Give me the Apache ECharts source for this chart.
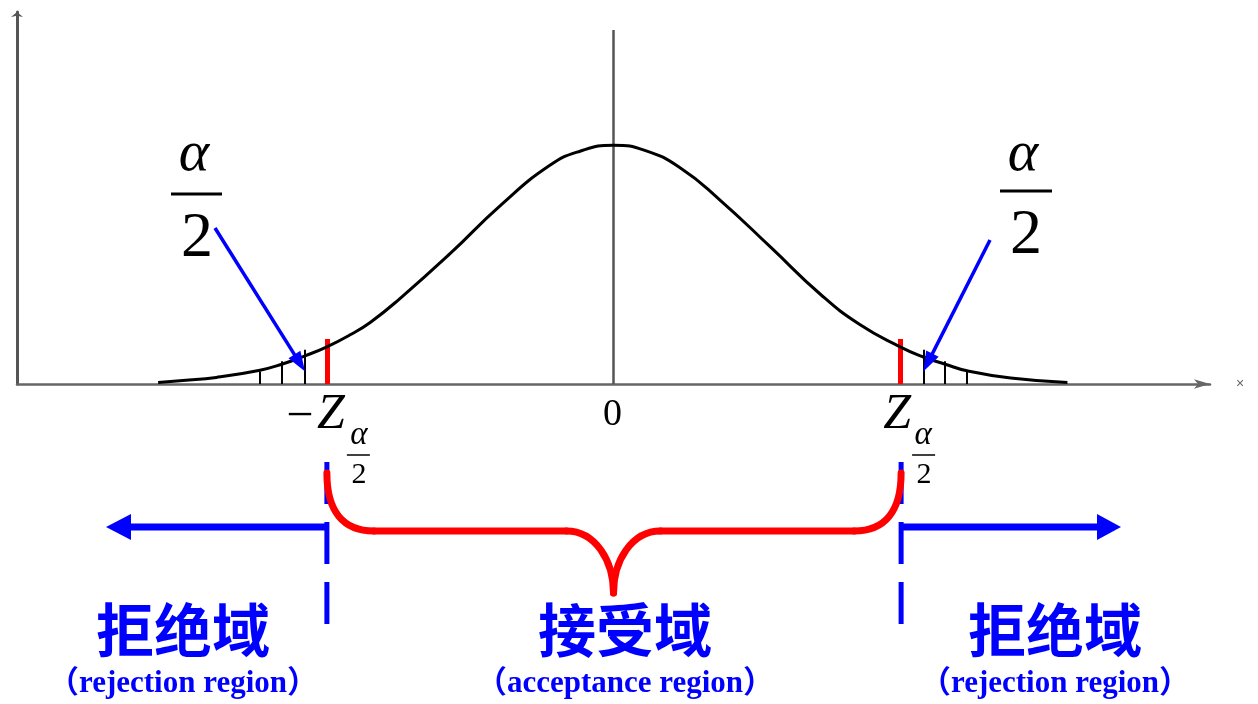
<!DOCTYPE html>
<html><head><meta charset="utf-8">
<script src="https://cdn.jsdelivr.net/npm/echarts@6/dist/echarts.min.js"></script>
<style>html,body{margin:0;padding:0;background:#fff}#c{width:1258px;height:704px}</style>
</head><body><div id="c"></div>
<script>
// ---- data (x in z units, y in density units) ----
const zValues = [-3.13,-2.96,-2.73,-2.43,-2.28,-2.12,-1.97,-1.81,-1.67,-1.47,-1.12,-0.78,-0.44,-0.23,0,0.22,0.46,0.73,1.08,1.42,1.69,1.97,2.13,2.28,2.43,2.73,3.12];
const density = [0.0025,0.0058,0.011,0.023,0.033,0.047,0.062,0.082,0.103,0.142,0.218,0.297,0.364,0.388,0.398,0.389,0.360,0.307,0.228,0.150,0.0995,0.062,0.045,0.033,0.022,0.010,0.0025];
const criticalZ = [-1.97, 1.97];
const criticalHeight = 0.075;
const hatchZ = [-2.43,-2.28,-2.12,2.13,2.28,2.43];
const hatchHeight = [0.021,0.038,0.057,0.057,0.038,0.021];
const centerLineTop = 0.59;
const arrowTipZ = [-2.12, 2.13];
const arrowTipY = 0.021;
const regionNames = ['拒绝域','接受域','拒绝域'];
const regionNamesEn = ['（rejection region）','（acceptance region）','（rejection region）'];

const chart = echarts.init(document.getElementById('c'));
const SERIF = '"Liberation Serif","Times New Roman",serif';
const BLUE = '#0000ff', RED = '#ff0000';

const markData = [];
markData.push([{coord:[0,0],lineStyle:{color:'#555',width:2.5,type:'solid'}},{coord:[0,centerLineTop]}]);
hatchZ.forEach((z,i)=>markData.push([{coord:[z,0],lineStyle:{color:'#000',width:2,type:'solid'}},{coord:[z,hatchHeight[i]]}]));
criticalZ.forEach(z=>markData.push([{coord:[z,0],lineStyle:{color:RED,width:5,type:'solid'}},{coord:[z,criticalHeight]}]));

chart.setOption({
  animation:false,
  grid:{left:17,right:48,top:12,bottom:320},
  xAxis:{type:'value',min:-4.1,max:4.1,
    axisLine:{onZero:true,symbol:['none','arrow'],symbolSize:[7,16],lineStyle:{color:'#666',width:2.5}},
    axisTick:{show:false},axisLabel:{show:false},splitLine:{show:false},
    name:'×',nameLocation:'end',nameGap:26,nameTextStyle:{color:'#666',fontSize:14,verticalAlign:'middle'}},
  yAxis:{type:'value',min:0,max:0.62,
    axisLine:{show:true,onZero:false,symbol:['none','arrow'],symbolSize:[9,5],lineStyle:{color:'#555',width:3}},
    axisTick:{show:false},axisLabel:{show:false},splitLine:{show:false}},
  series:[{
    type:'line',data:zValues.map((z,i)=>[z,density[i]]),smooth:true,symbol:'none',
    lineStyle:{color:'#000',width:3},z:5,
    markLine:{silent:true,symbol:['none','none'],label:{show:false},data:markData}
  }]
});

function px(x,y){return chart.convertToPixel({gridIndex:0},[x,y]);}
const xL = px(criticalZ[0],0)[0], xR = px(criticalZ[1],0)[0], xC = px(0,0)[0];

function txt(x,y,s,size,opts){
  return {type:'text',x:x,y:y,z:20,style:Object.assign({text:s,fontSize:size,fontFamily:SERIF,fill:'#000',align:'center',verticalAlign:'middle'},opts||{})};
}
function line(x1,y1,x2,y2,color,w,extra){
  return {type:'line',z:20,shape:{x1,y1,x2,y2},style:Object.assign({stroke:color,lineWidth:w},extra||{})};
}
function bez(x1,y1,c1x,c1y,c2x,c2y,x2,y2,color,w){
  return {type:'bezierCurve',z:22,shape:{x1,y1,cpx1:c1x,cpy1:c1y,cpx2:c2x,cpy2:c2y,x2,y2},style:{stroke:color,lineWidth:w,fill:null,lineCap:'round'}};
}
function arrowHead(x1,y1,x2,y2,len,hw,color){
  const dx=x2-x1, dy=y2-y1, L=Math.hypot(dx,dy), ux=dx/L, uy=dy/L;
  const bx=x2-ux*len, by=y2-uy*len;
  return {type:'polygon',z:21,shape:{points:[[x2,y2],[bx-uy*hw,by+ux*hw],[bx+uy*hw,by-ux*hw]]},style:{fill:color}};
}
function arrow(x1,y1,x2,y2,w,len,hw,color){
  const dx=x2-x1, dy=y2-y1, L=Math.hypot(dx,dy);
  const ex=x2-dx/L*(len*0.8), ey=y2-dy/L*(len*0.8);
  return [line(x1,y1,ex,ey,color,w),arrowHead(x1,y1,x2,y2,len,hw,color)];
}

const g = [];
// zero label
g.push(txt(xC-1,415,'0',38));
// -Z alpha/2
g.push(txt(xL-27,417,'−',48));
g.push(txt(xL+4,415,'Z',50,{fontStyle:'italic'}));
g.push(txt(xL+32,435,'α',33,{fontStyle:'italic'}));
g.push(line(xL+20,455,xL+43,455,'#000',1.5));
g.push(txt(xL+32,475,'2',30));
// Z alpha/2
g.push(txt(xR-3,415,'Z',50,{fontStyle:'italic'}));
g.push(txt(xR+23,435,'α',33,{fontStyle:'italic'}));
g.push(line(xR+12,455,xR+35,455,'#000',1.5));
g.push(txt(xR+24,475,'2',30));
// big alpha/2 left & right
g.push(txt(194,155,'α',58,{fontStyle:'italic'}));
g.push(line(171,194,222,194,'#000',3));
g.push(txt(197,239,'2',64));
g.push(txt(1023,155,'α',58,{fontStyle:'italic'}));
g.push(line(1000,191,1052,191,'#000',3));
g.push(txt(1026,236,'2',64));
// pointer arrows
const tl = px(arrowTipZ[0],arrowTipY), tr = px(arrowTipZ[1],arrowTipY);
g.push(...arrow(215,228,tl[0],tl[1],3.5,20,7,BLUE));
g.push(...arrow(990,240,tr[0],tr[1],3.5,20,7,BLUE));
// dashed boundaries
g.push(line(xL,462,xL,627,BLUE,5,{lineDash:[42,18]}));
g.push(line(xR+1,462,xR+1,627,BLUE,5,{lineDash:[42,18]}));
// horizontal region arrows
g.push(line(xL+2,527,126,527,BLUE,7));
g.push({type:'polygon',z:21,shape:{points:[[106,527],[131,514],[131,540]]},style:{fill:BLUE}});
g.push(line(xR-1,527,1102,527,BLUE,7));
g.push({type:'polygon',z:21,shape:{points:[[1121,527],[1097,514],[1097,540]]},style:{fill:BLUE}});
// brace
const L=xL, R=xR+1, C=(xL+xR)/2, T=473, H=531, B=593;
g.push(bez(L,T, L,T+38, L+16,H, L+47,H, RED,7));
g.push(line(L+47,H,C-47,H,RED,7,{lineCap:'round'}));
g.push(bez(C-47,H, C-18,H, C,H+30, C,B, RED,7));
g.push(bez(C,B, C,H+30, C+18,H, C+47,H, RED,7));
g.push(line(C+47,H,R-47,H,RED,7,{lineCap:'round'}));
g.push(bez(R-47,H, R-16,H, R,T+38, R,T, RED,7));
// region names
const CJK = '"Noto Sans CJK SC","Noto Sans CJK JP",sans-serif';
const EN = '"Liberation Serif","Noto Sans CJK SC",serif';
const cx = [183, 625, 1055];
cx.forEach((x,i)=>{
  g.push(txt(x,630,regionNames[i],58,{fontFamily:CJK,fontWeight:'bold',fill:BLUE}));
  g.push(txt(x,684,regionNamesEn[i],31,{fontFamily:EN,fontWeight:'bold',fill:BLUE}));
});
chart.setOption({graphic:g});
</script></body></html>
